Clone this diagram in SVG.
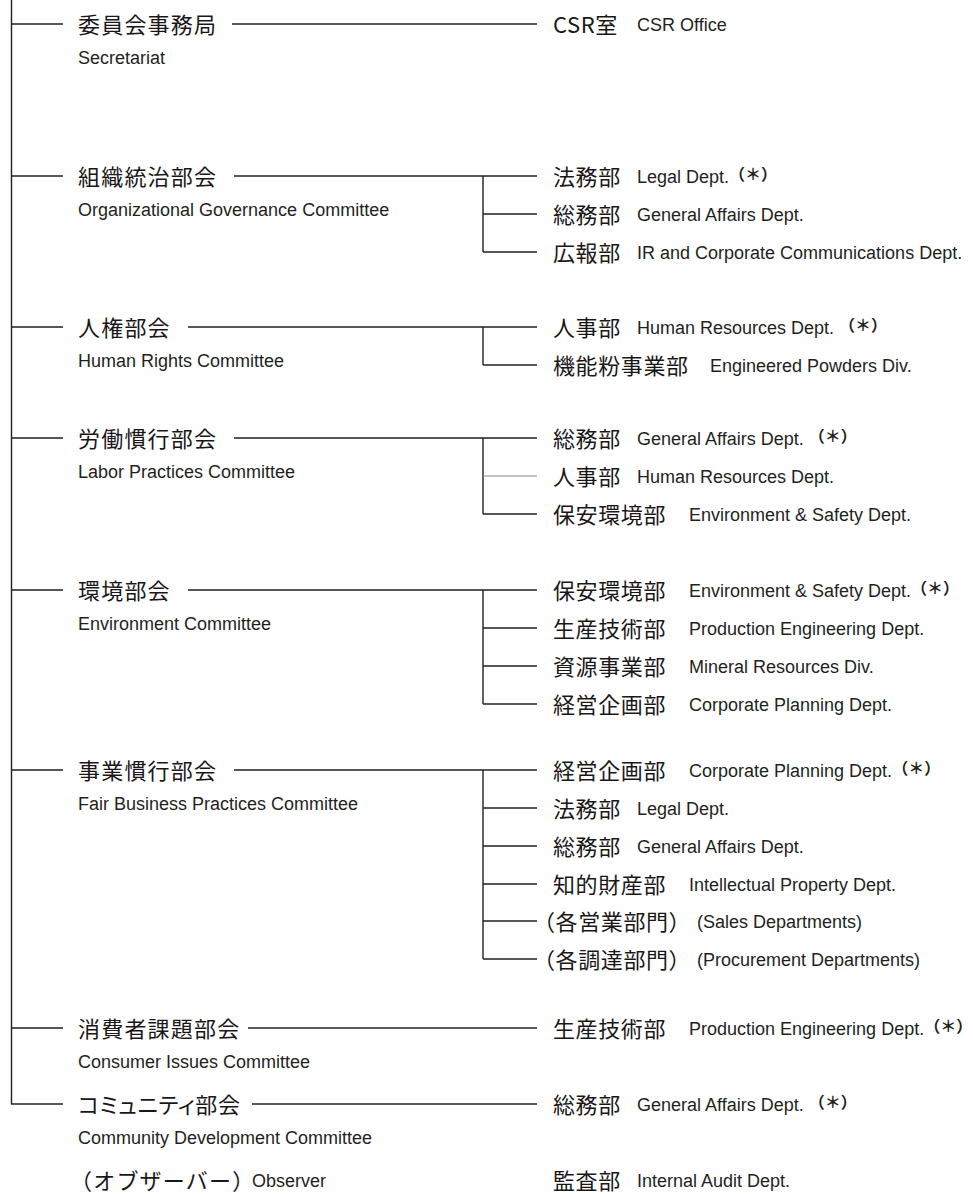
<svg xmlns="http://www.w3.org/2000/svg" width="973" height="1194" viewBox="0 0 973 1194">
<style>
.jp{font-family:"Noto Sans CJK JP","Noto Sans CJK SC",sans-serif;font-size:22px;letter-spacing:1.2px;fill:#1a1718}
.dp{letter-spacing:0.6px}
.pa{font-feature-settings:"palt";letter-spacing:0}
.en{font-family:"Liberation Sans",Arial,sans-serif;font-size:18px;fill:#231f20}
.ast{font-family:"Noto Sans CJK JP",sans-serif;font-size:16px;font-weight:bold;letter-spacing:0}
.ln{stroke:#231f20;stroke-width:1.4;fill:none}
.ln2{stroke:#8a8a8a;stroke-width:1.1;fill:none}
</style>
<rect width="973" height="1194" fill="#ffffff"/>
<g id="connectors">
<path class="ln" d="M11.5 0V1104"/>
<path class="ln" d="M11 24H63M11 176H63M11 327H63M11 438H63M11 590H63M11 770H63M11 1028H63M11 1104H63"/>
<path class="ln" d="M232 24H537"/>
<path class="ln" d="M234 176H537M483 176V252M483 214H537M483 252H537"/>
<path class="ln" d="M188 327H537M483 327V365M483 365H537"/>
<path class="ln" d="M234 438H537M483 438V514M483 514H537"/>
<path class="ln2" d="M483 476H537"/>
<path class="ln" d="M188 590H537M483 590V704M483 628H537M483 666H537M483 704H537"/>
<path class="ln" d="M234 770H537M483 770V959M483 808H537M483 846H537M483 884H537M483 921H537M483 959H537"/>
<path class="ln" d="M248 1028H537"/>
<path class="ln" d="M252 1104H537"/>
</g>
<g id="committee-secretariat"><text class="jp" x="78" y="33">委員会事務局</text><text class="en" x="78" y="64">Secretariat</text></g>
<g id="committee-governance"><text class="jp" x="78" y="185">組織統治部会</text><text class="en" x="78" y="216">Organizational Governance Committee</text></g>
<g id="committee-human-rights"><text class="jp" x="78" y="336">人権部会</text><text class="en" x="78" y="367">Human Rights Committee</text></g>
<g id="committee-labor"><text class="jp" x="78" y="447">労働慣行部会</text><text class="en" x="78" y="478">Labor Practices Committee</text></g>
<g id="committee-environment"><text class="jp" x="78" y="599">環境部会</text><text class="en" x="78" y="630">Environment Committee</text></g>
<g id="committee-fair-business"><text class="jp" x="78" y="779">事業慣行部会</text><text class="en" x="78" y="810">Fair Business Practices Committee</text></g>
<g id="committee-consumer"><text class="jp" x="78" y="1037">消費者課題部会</text><text class="en" x="78" y="1068">Consumer Issues Committee</text></g>
<g id="committee-community"><text class="jp pa" x="78" y="1113" textLength="162" lengthAdjust="spacing">コミュニティ部会</text><text class="en" x="78" y="1144">Community Development Committee</text></g>
<g id="observer"><text class="jp" x="70" y="1189">（オブザーバー）</text><text class="en" x="252" y="1187">Observer</text></g>

<g id="dept-csr"><text class="jp dp" x="553" y="33">CSR室</text><text class="en" x="637" y="31">CSR Office</text></g>
<g id="dept-legal-1"><text class="jp dp" x="553" y="185">法務部</text><text class="en" x="637" y="183">Legal Dept.<tspan class="ast" dy="-3">（＊）</tspan></text></g>
<g id="dept-ga-1"><text class="jp dp" x="553" y="223">総務部</text><text class="en" x="637" y="221">General Affairs Dept.</text></g>
<g id="dept-ir"><text class="jp dp" x="553" y="261">広報部</text><text class="en" x="637" y="259">IR and Corporate Communications Dept.</text></g>
<g id="dept-hr-1"><text class="jp dp" x="553" y="336">人事部</text><text class="en" x="637" y="334">Human Resources Dept. <tspan class="ast" dy="-3">（＊）</tspan></text></g>
<g id="dept-powders"><text class="jp dp" x="553" y="374">機能粉事業部</text><text class="en" x="710" y="372">Engineered Powders Div.</text></g>
<g id="dept-ga-2"><text class="jp dp" x="553" y="447">総務部</text><text class="en" x="637" y="445">General Affairs Dept. <tspan class="ast" dy="-3">（＊）</tspan></text></g>
<g id="dept-hr-2"><text class="jp dp" x="553" y="485">人事部</text><text class="en" x="637" y="483">Human Resources Dept.</text></g>
<g id="dept-es-1"><text class="jp dp" x="553" y="523">保安環境部</text><text class="en" x="689" y="521">Environment &amp; Safety Dept.</text></g>
<g id="dept-es-2"><text class="jp dp" x="553" y="599">保安環境部</text><text class="en" x="689" y="597">Environment &amp; Safety Dept.<tspan class="ast" dy="-3">（＊）</tspan></text></g>
<g id="dept-pe-1"><text class="jp dp" x="553" y="637">生産技術部</text><text class="en" x="689" y="635">Production Engineering Dept.</text></g>
<g id="dept-mineral"><text class="jp dp" x="553" y="675">資源事業部</text><text class="en" x="689" y="673">Mineral Resources Div.</text></g>
<g id="dept-cp-1"><text class="jp dp" x="553" y="713">経営企画部</text><text class="en" x="689" y="711">Corporate Planning Dept.</text></g>
<g id="dept-cp-2"><text class="jp dp" x="553" y="779">経営企画部</text><text class="en" x="689" y="777">Corporate Planning Dept.<tspan class="ast" dy="-3">（＊）</tspan></text></g>
<g id="dept-legal-2"><text class="jp dp" x="553" y="817">法務部</text><text class="en" x="637" y="815">Legal Dept.</text></g>
<g id="dept-ga-3"><text class="jp dp" x="553" y="855">総務部</text><text class="en" x="637" y="853">General Affairs Dept.</text></g>
<g id="dept-ip"><text class="jp dp" x="553" y="893">知的財産部</text><text class="en" x="689" y="891">Intellectual Property Dept.</text></g>
<g id="dept-sales"><text class="jp dp" x="533" y="930">（各営業部門）</text><text class="en" x="697" y="928">(Sales Departments)</text></g>
<g id="dept-procurement"><text class="jp dp" x="533" y="968">（各調達部門）</text><text class="en" x="697" y="966">(Procurement Departments)</text></g>
<g id="dept-pe-2"><text class="jp dp" x="553" y="1037">生産技術部</text><text class="en" x="689" y="1035">Production Engineering Dept.<tspan class="ast" dy="-3">（＊）</tspan></text></g>
<g id="dept-ga-4"><text class="jp dp" x="553" y="1113">総務部</text><text class="en" x="637" y="1111">General Affairs Dept. <tspan class="ast" dy="-3">（＊）</tspan></text></g>
<g id="dept-audit"><text class="jp dp" x="553" y="1189">監査部</text><text class="en" x="637" y="1187">Internal Audit Dept.</text></g>
</svg>
